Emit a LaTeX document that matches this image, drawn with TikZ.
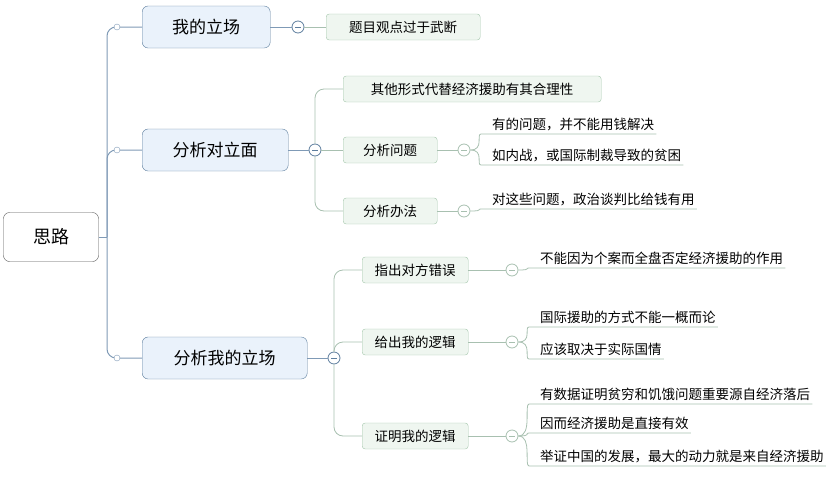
\documentclass[tikz,border=0pt]{standalone}
\usepackage{fontspec}
\setmainfont{Noto Sans CJK SC}
\definecolor{mainline}{HTML}{7F9AB6}
\definecolor{mainfill}{HTML}{EAF2FB}
\definecolor{mainedge}{HTML}{5E7E9E}
\definecolor{subline}{HTML}{A8C0B0}
\definecolor{subfill}{HTML}{EFF6F0}
\definecolor{subedge}{HTML}{A3C6AB}
\definecolor{rootedge}{HTML}{555555}
\tikzset{
  rootbox/.style={draw=rootedge, fill=white, rounded corners=6pt, minimum width=95pt, minimum height=49pt, font=\fontsize{18}{18}\selectfont},
  mainbox/.style={draw=mainedge, fill=mainfill, rounded corners=6pt, minimum height=42pt, font=\fontsize{17}{17}\selectfont, anchor=west},
  subbox/.style={draw=subedge, fill=subfill, rounded corners=3pt, minimum height=26pt, font=\fontsize{13.5}{13.5}\selectfont, anchor=west},
  leaf/.style={font=\fontsize{13.5}{13.5}\selectfont, anchor=south west, inner xsep=2pt, inner ysep=3pt},
  fold/.style={circle, draw=#1, fill=white, inner sep=0pt, minimum size=12pt, line width=0.8pt,
    path picture={\draw[#1, line width=0.9pt] ([xshift=-3pt]path picture bounding box.center) -- ([xshift=3pt]path picture bounding box.center);}},
  knob/.style={circle, draw=mainline, fill=white, inner sep=0pt, minimum size=6pt},
  mainlink/.style={draw=mainline, line width=1pt, rounded corners=9pt},
  sublink/.style={draw=subline, line width=0.8pt, rounded corners=9pt},
}
\begin{document}
\begin{tikzpicture}[x=1pt,y=-1pt]
  \useasboundingbox (0,0) rectangle (836,477);

  % Root and main branches
  \node[rootbox] (root) at (51,237) {思路};
  \node[mainbox, minimum width=128pt] (mine) at (142,27) {我的立场};
  \node[mainbox, minimum width=146pt] (oppo) at (142,150) {分析对立面};
  \node[mainbox, minimum width=165pt] (myview) at (142,358) {分析我的立场};
  \coordinate (trunk) at (107,237);
  \draw[mainlink] (root.east) -- (trunk);
  \foreach \m in {mine,oppo,myview}
    \draw[mainlink] (trunk) |- (\m.west);
  \foreach \m in {mine,oppo,myview}
    \node[knob] at ([xshift=-25pt]\m.west) {};

  % Fold buttons
  \node[fold=mainedge] (fmine) at (298,27) {};
  \node[fold=mainedge] (foppo) at (315,150) {};
  \node[fold=mainedge] (fmyview) at (334,358) {};
  \foreach \m/\f in {mine/fmine,oppo/foppo,myview/fmyview}
    \draw[mainlink] (\m.east) -- (\f.west);

  % Second level
  \node[subbox, minimum width=154pt] (rash) at (326,27) {题目观点过于武断};
  \node[subbox, minimum width=258pt] (other) at (343,89) {其他形式代替经济援助有其合理性};
  \node[subbox, minimum width=94pt] (prob) at (343,150) {分析问题};
  \node[subbox, minimum width=94pt] (way) at (343,211) {分析办法};
  \node[subbox, minimum width=106pt] (wrong) at (362,270) {指出对方错误};
  \node[subbox, minimum width=106pt] (logic) at (362,342) {给出我的逻辑};
  \node[subbox, minimum width=106pt] (proof) at (362,436) {证明我的逻辑};
  \draw[sublink] (fmine.east) -- (rash.west);
  \draw[sublink] (foppo.east) -- (prob.west);
  \draw[sublink] (fmyview.north) |- (logic.west);
  \draw[sublink] (foppo.south) |- (way.west);
  \draw[sublink] (foppo.north) |- (other.west);
  \draw[sublink] (fmyview.north) |- (wrong.west);
  \draw[sublink] (fmyview.south) |- (proof.west);

  % Third level fold buttons
  \node[fold=subline] (fprob) at (464,150) {};
  \node[fold=subline] (fway) at (464,211) {};
  \node[fold=subline] (fwrong) at (512,270) {};
  \node[fold=subline] (flogic) at (512,342) {};
  \node[fold=subline] (fproof) at (512,436) {};
  \foreach \s/\f in {prob/fprob,way/fway,wrong/fwrong,logic/flogic,proof/fproof}
    \draw[sublink] (\s.east) -- (\f.west);

  % Leaves
  \node[leaf] (money) at (490,134) {有的问题，并不能用钱解决};
  \node[leaf] (war) at (490,165) {如内战，或国际制裁导致的贫困};
  \node[leaf] (talk) at (490,209) {对这些问题，政治谈判比给钱有用};
  \node[leaf] (case) at (538,268) {不能因为个案而全盘否定经济援助的作用};
  \node[leaf] (modes) at (538,327) {国际援助的方式不能一概而论};
  \node[leaf] (depend) at (538,359) {应该取决于实际国情};
  \node[leaf] (data) at (538,404) {有数据证明贫穷和饥饿问题重要源自经济落后};
  \node[leaf] (direct) at (538,433) {因而经济援助是直接有效};
  \node[leaf] (china) at (538,466) {举证中国的发展，最大的动力就是来自经济援助};
  \foreach \f/\l in {fprob/money,fprob/war,fway/talk,fwrong/case,flogic/modes,flogic/depend,fproof/data,fproof/direct,fproof/china}
    \draw[sublink] (\f.east) .. controls +(14,0) and +(-14,0) .. (\l.south west) -- (\l.south east);
\end{tikzpicture}
\end{document}
